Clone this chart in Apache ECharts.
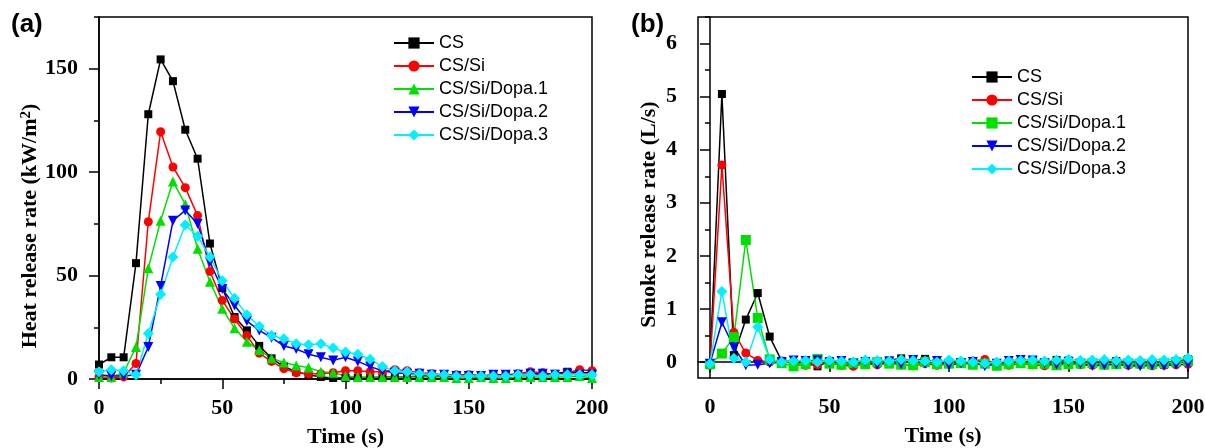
<!DOCTYPE html>
<html>
<head>
<meta charset="utf-8">
<script src="https://cdn.jsdelivr.net/npm/echarts@6/dist/echarts.min.js"></script>
<style>
    body { margin: 0; background: #fff; }
    #main { width: 1205px; height: 448px; }
</style>
</head>
<body>
<div id="main"></div>
<script>
// time axis, every 5 s
var times = [0, 5, 10, 15, 20, 25, 30, 35, 40, 45, 50, 55, 60, 65, 70, 75, 80, 85, 90, 95, 100,
    105, 110, 115, 120, 125, 130, 135, 140, 145, 150, 155, 160, 165, 170, 175, 180, 185, 190, 195, 200];

var seriesNames = ['CS', 'CS/Si', 'CS/Si/Dopa.1', 'CS/Si/Dopa.2', 'CS/Si/Dopa.3'];

// (a) heat release rate, kW/m2
var hrrCS = [7, 10.5, 10.5, 56, 128, 154.5, 144, 120.5, 106.5, 65.5, 44, 30, 23.5, 16, 10, 6, 3.5, 2, 1, 0.5, 0.5,
    0.5, 0.5, 1, 1, 1, 1.5, 1.5, 1.5, 1.5, 2, 1.5, 1.5, 2, 2, 2, 2, 2.5, 3.5, 3, 3];
var hrrSi = [1, 0.5, 1, 7.5, 76, 119.5, 102.5, 92.5, 79, 52, 38, 29, 21, 12.5, 8.5, 5, 3, 2.5, 2.5, 3, 4,
    4, 3.5, 3.5, 4.5, 4, 3, 2.5, 2, 2, 2, 1.5, 1, 2, 2.5, 3.5, 3, 2, 3, 4.5, 4];
var hrrD1 = [1, 1, 3, 15.5, 53.5, 76.5, 95.5, 84.5, 63, 47, 34, 24.5, 18, 14, 10, 8, 6.5, 5.5, 3.5, 3, 1.5,
    1, 1, 1, 1, 1, 1, 1, 1, 0.5, 0.5, 1, 0.5, 0.5, 1, 1, 1, 1, 1, 1.5, 0.5];
var hrrD2 = [2, 1.5, 1.5, 2, 15.5, 45, 76.5, 81.5, 75, 56.5, 43.5, 35.5, 28, 23.5, 20, 16, 14.5, 12, 10.5, 9, 10.5,
    8.5, 6, 4, 3, 2.5, 2.5, 2, 2, 1.5, 1.5, 1.5, 2, 2, 2, 2.5, 2.5, 2, 2.5, 2, 2];
var hrrD3 = [3.5, 4.5, 4, 2, 22, 41, 59, 74.5, 69, 59, 47.5, 39, 31, 25.5, 21, 19.5, 17, 16.5, 17, 15, 13,
    12, 9.5, 6, 4, 3.5, 2.5, 2, 2, 1.5, 1.5, 1.5, 1.5, 1.5, 2, 2, 1.5, 2, 2, 2, 2];

// (b) smoke release rate, L/s
var srrCS = [-0.03, 5.05, 0.13, 0.8, 1.3, 0.48, 0.02, -0.02, 0, -0.08, 0.02, -0.03, -0.05, 0, -0.02, 0.03, 0.07, 0.02, 0.06, -0.03, -0.02,
    0, -0.04, -0.02, -0.05, -0.02, 0, 0.03, -0.02, 0.04, 0.03, -0.02, 0, -0.03, 0.02, -0.04, -0.02, -0.03, -0.05, 0.02, 0.05];
var srrSi = [-0.06, 3.71, 0.56, 0.17, 0.03, 0, 0.02, -0.03, -0.06, -0.05, 0.02, -0.06, -0.08, -0.03, -0.05, -0.02, -0.04, -0.07, -0.03, -0.06, -0.04,
    -0.02, 0.02, 0.05, -0.04, -0.06, -0.03, -0.05, -0.07, -0.04, -0.02, -0.05, -0.06, -0.04, -0.03, -0.06, -0.05, -0.07, -0.06, -0.05, -0.04];
var srrD1 = [-0.04, 0.16, 0.47, 2.3, 0.83, 0.05, -0.02, -0.08, -0.04, 0.06, -0.03, -0.05, -0.02, -0.04, 0, -0.03, -0.05, -0.06, 0, -0.04, -0.03,
    -0.02, -0.05, -0.03, -0.07, -0.04, -0.02, -0.04, -0.03, -0.06, -0.04, -0.03, -0.02, -0.05, -0.04, -0.02, -0.03, -0.04, -0.02, 0, 0.02];
var srrD2 = [-0.03, 0.75, 0.28, -0.06, -0.05, -0.02, 0, 0.03, 0.02, 0.03, -0.01, 0.02, -0.03, 0, -0.05, 0.01, -0.04, 0.04, -0.03, 0.02, -0.06,
    -0.02, 0, -0.08, -0.03, 0.02, 0.04, 0.03, -0.02, -0.05, 0, -0.03, -0.07, -0.06, -0.04, -0.07, -0.08, -0.06, -0.07, -0.05, -0.04];
var srrD3 = [-0.03, 1.33, 0.07, 0, 0.66, 0.05, 0, 0.02, 0.03, 0, 0.03, 0.02, 0, 0.04, 0.03, 0.02, 0.05, 0.03, 0.02, 0, 0.04,
    0.02, 0, -0.02, 0, 0.02, 0.03, 0.04, 0.02, 0.04, 0.05, 0.03, 0.04, 0.05, 0.03, 0.04, 0.03, 0.05, 0.04, 0.05, 0.07];

// tick positions
var timeMinor = [0, 25, 50, 75, 100, 125, 150, 175, 200];
var timeMajor = [0, 50, 100, 150, 200];
var hrrMinor = [0, 25, 50, 75, 100, 125, 150, 175];
var hrrMajor = [0, 50, 100, 150];
var srrMinor = [0, 0.5, 1, 1.5, 2, 2.5, 3, 3.5, 4, 4.5, 5, 5.5, 6, 6.5];
var srrMajor = [0, 1, 2, 3, 4, 5, 6];

var colors = ['#000000', '#ff0000', '#00e000', '#0000ff', '#00f0ff'];
var symbolsA = ['rect', 'circle', 'triangle', 'triangle', 'diamond'];
var symbolsB = ['rect', 'circle', 'rect', 'triangle', 'diamond'];
var rotates = [0, 0, 0, 180, 0];
var sizes = [8, 9, 10, 10, 11];

function pairs(vals) {
    return times.map(function (t, i) { return [t, vals[i]]; });
}

var serifLabel = {
    fontFamily: 'Liberation Serif',
    fontWeight: 'bold',
    fontSize: 22,
    color: '#000'
};
var blackLine = { lineStyle: { color: '#000', width: 1.5 } };

function mainX(grid, min, name) {
    return {
        gridIndex: grid, type: 'value', min: min, max: 200,
        name: name, nameLocation: 'middle', nameGap: 47,
        nameTextStyle: serifLabel,
        axisLine: blackLine,
        axisTick: { customValues: timeMinor, length: 5, lineStyle: { color: '#000', width: 1.5 } },
        axisLabel: Object.assign({ customValues: timeMajor, margin: 18 }, serifLabel),
        splitLine: { show: false }
    };
}
function majorX(grid, min) {
    return {
        gridIndex: grid, type: 'value', min: min, max: 200, position: 'bottom',
        axisLine: { show: false },
        axisTick: { customValues: timeMajor, length: 10, lineStyle: { color: '#000', width: 1.5 } },
        axisLabel: { show: false },
        splitLine: { show: false }
    };
}
function mainY(grid, min, max, minor, major, name, gap, shift, rich) {
    return {
        gridIndex: grid, type: 'value', min: min, max: max,
        name: name, nameLocation: 'middle', nameGap: gap,
        nameTextStyle: Object.assign({ rich: rich || {}, padding: [0, shift, 0, 0] }, serifLabel),
        axisLine: blackLine,
        axisTick: { customValues: minor, length: 5, lineStyle: { color: '#000', width: 1.5 } },
        axisLabel: Object.assign({ customValues: major, margin: 21 }, serifLabel),
        splitLine: { show: false }
    };
}
function majorY(grid, min, max, major) {
    return {
        gridIndex: grid, type: 'value', min: min, max: max, position: 'left',
        axisLine: { show: false },
        axisTick: { customValues: major, length: 10, lineStyle: { color: '#000', width: 1.5 } },
        axisLabel: { show: false },
        splitLine: { show: false }
    };
}

var dataA = [hrrCS, hrrSi, hrrD1, hrrD2, hrrD3];
var dataB = [srrCS, srrSi, srrD1, srrD2, srrD3];
var series = [];
dataA.forEach(function (d, i) {
    series.push({
        name: seriesNames[i], type: 'line', xAxisIndex: 0, yAxisIndex: 0,
        data: pairs(d), symbol: symbolsA[i], symbolRotate: rotates[i], symbolSize: sizes[i],
        itemStyle: { color: colors[i] }, lineStyle: { color: colors[i], width: 1.5 },
        animation: false
    });
});
dataB.forEach(function (d, i) {
    series.push({
        name: seriesNames[i] + ' ', type: 'line', xAxisIndex: 2, yAxisIndex: 2,
        data: pairs(d), symbol: symbolsB[i], symbolRotate: rotates[i], symbolSize: sizes[i],
        itemStyle: { color: colors[i] }, lineStyle: { color: colors[i], width: 1.5 },
        animation: false
    });
});

var legendText = { fontFamily: 'Liberation Sans', fontSize: 18, color: '#000', lineHeight: 20 };
var panelTag = { fontFamily: 'Liberation Sans', fontWeight: 'bold', fontSize: 26, color: '#000' };

var chart = echarts.init(document.getElementById('main'));
var option = {
    backgroundColor: '#fff',
    title: [
        { text: '(a)', left: 6, top: 7, textStyle: panelTag },
        { text: '(b)', left: 626, top: 7, textStyle: panelTag }
    ],
    grid: [
        { left: 99, top: 17, width: 493, height: 362, outerBoundsMode: 'none', show: true, borderColor: '#000', borderWidth: 1.5 },
        { left: 698, top: 17, width: 490, height: 361, outerBoundsMode: 'none', show: true, borderColor: '#000', borderWidth: 1.5 }
    ],
    legend: [
        {
            data: seriesNames, orient: 'vertical', left: 388, top: 28,
            itemWidth: 40, itemHeight: 14, itemGap: 3, textStyle: legendText
        },
        {
            data: seriesNames.map(function (n) { return n + ' '; }), orient: 'vertical', left: 966, top: 62,
            itemWidth: 40, itemHeight: 14, itemGap: 3, textStyle: legendText
        }
    ],
    xAxis: [mainX(0, 0, 'Time (s)'), majorX(0, 0), mainX(1, -5, 'Time (s)'), majorX(1, -5)],
    yAxis: [
        mainY(0, 0, 175, hrrMinor, hrrMajor, 'Heat release rate (kW/m{sup|2})', 56, 56,
            { sup: { fontFamily: 'Liberation Serif', fontWeight: 'bold', fontSize: 15, verticalAlign: 'top', lineHeight: 14 } }),
        majorY(0, 0, 175, hrrMajor),
        mainY(1, -0.3, 6.5, srrMinor, srrMajor, 'Smoke release rate (L/s)', 38, 34),
        majorY(1, -0.3, 6.5, srrMajor)
    ],
    series: series
};
chart.setOption(option);
</script>
</body>
</html>
